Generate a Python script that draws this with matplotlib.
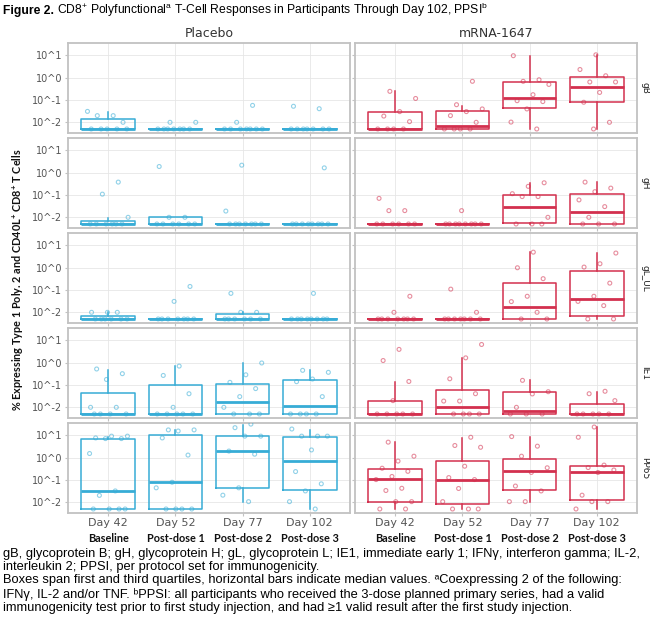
import numpy as np
import matplotlib
matplotlib.use('Agg')
import matplotlib.pyplot as plt
from matplotlib import transforms
from matplotlib.ticker import NullLocator

plt.rcParams['mathtext.default'] = 'regular'

# ---------------- data (values are log10 of % expressing) ----------------
DAYS = ['Day 42', 'Day 52', 'Day 77', 'Day 102']
PHASES = ['Baseline', 'Post-dose 1', 'Post-dose 2', 'Post-dose 3']
ANTIGENS = ['gB', 'gH', 'gL_UL', 'IE1', 'PP65']
ARMS = ['Placebo', 'mRNA-1647']
Y_TICKS = [0.01, 0.1, 1, 10]
Y_TICK_LABELS = ['10^-2', '10^-1', '10^0', '10^1']
Y_LIMITS_LOG = [-2.48, 1.56]

# points per day (log10 %)
PLACEBO_GB_PTS = [[-1.51, -1.7, -1.7, -2.0, -2.3, -2.3, -2.3, -2.3, -2.3],
                  [-2.0, -2.0, -2.3, -2.3, -2.3, -2.3, -2.3, -2.3, -2.3],
                  [-1.24, -2.0, -2.3, -2.3, -2.3, -2.3, -2.3, -2.3, -2.3],
                  [-1.28, -1.39, -2.3, -2.3, -2.3, -2.3, -2.3, -2.3, -2.3]]
MRNA_GB_PTS = [[-0.61, -0.93, -1.52, -1.72, -1.97, -2.3, -2.3, -2.3, -2.3],
               [-0.16, -1.21, -1.4, -1.52, -1.7, -2.0, -2.3, -2.3, -2.3, -2.3],
               [0.99, -0.09, -0.16, -0.3, -0.76, -1.03, -1.07, -1.4, -1.99, -2.3],
               [1.03, 0.37, 0.09, -0.19, -0.19, -0.66, -1.1, -2.0, -2.3]]
PLACEBO_GH_PTS = [[-0.42, -0.96, -2.0, -2.3, -2.3, -2.3, -2.3, -2.3, -2.3],
                  [0.28, -2.0, -2.0, -2.3, -2.3, -2.3, -2.3, -2.3, -2.3],
                  [0.34, -1.72, -2.3, -2.3, -2.3, -2.3, -2.3, -2.3, -2.3],
                  [0.22, -2.3, -2.3, -2.3, -2.3, -2.3, -2.3, -2.3, -2.3]]
MRNA_GH_PTS = [[-1.15, -1.7, -1.7, -2.3, -2.3, -2.3, -2.3, -2.3, -2.3],
               [-1.7, -2.3, -2.3, -2.3, -2.3, -2.3, -2.3, -2.3, -2.3],
               [-0.45, -0.61, -0.94, -1.07, -1.07, -2.0, -2.3, -2.3, -2.3],
               [-0.42, -0.69, -0.85, -1.22, -1.52, -2.0, -2.3, -2.3, -2.3]]
PLACEBO_GL_PTS = [[-2.0, -2.0, -2.0, -2.3, -2.3, -2.3, -2.3, -2.3, -2.3],
                  [-0.84, -1.51, -2.3, -2.3, -2.3, -2.3, -2.3, -2.3, -2.3],
                  [-1.15, -2.0, -2.0, -2.3, -2.3, -2.3, -2.3, -2.3, -2.3],
                  [-1.15, -2.3, -2.3, -2.3, -2.3, -2.3, -2.3, -2.3, -2.3]]
MRNA_GL_PTS = [[-1.28, -2.0, -2.3, -2.3, -2.3, -2.3, -2.3, -2.3, -2.3],
               [-0.96, -2.0, -2.3, -2.3, -2.3, -2.3, -2.3, -2.3, -2.3],
               [0.70, 0.0, -0.49, -1.28, -1.52, -2.0, -2.3, -2.3],
               [0.66, 0.18, 0.03, -0.69, -1.28, -1.51, -1.7, -2.3, -2.3]]
PLACEBO_IE1_PTS = [[-0.28, -0.49, -0.75, -2.0, -2.0, -2.3, -2.3, -2.3, -2.3],
                   [-0.15, -0.57, -1.39, -2.0, -2.3, -2.3, -2.3, -2.3, -2.3],
                   [-0.01, -0.54, -0.88, -1.16, -1.52, -2.0, -2.3, -2.3, -2.3],
                   [-0.34, -0.43, -0.73, -0.85, -1.52, -2.3, -2.3, -2.3, -2.3]]
MRNA_IE1_PTS = [[0.6, 0.1, -0.84, -1.7, -2.3, -2.3, -2.3, -2.3, -2.3],
                [0.82, 0.22, -0.72, -1.39, -1.72, -1.72, -2.3, -2.3, -2.3, -2.3],
                [-0.79, -1.3, -1.4, -2.0, -2.3, -2.3, -2.3],
                [-1.28, -1.39, -1.7, -2.3, -2.3, -2.3, -2.3, -2.3]]
PLACEBO_PP65_PTS = [[0.97, 0.97, 0.89, 0.86, 0.86, 0.19, -1.49, -1.69, -2.3, -2.3, -2.3, -2.3],
                    [1.25, 1.25, 1.2, 0.89, 0.12, -1.1, -1.35, -2.3, -2.3, -2.3, -2.3],
                    [1.51, 1.35, 0.97, 0.97, 0.3, 0.16, -1.35, -1.68, -1.97],
                    [1.29, 0.97, 0.97, 0.97, 0.35, -0.62, -1.17, -1.49, -1.97, -2.3]]
MRNA_PP65_PTS = [[0.7, 0.07, -0.15, -0.47, -0.61, -0.84, -0.98, -1.37, -1.47, -1.97, -1.97, -2.3, -2.3],
                 [0.92, 0.55, 0.47, -0.38, -0.89, -0.98, -1.38, -1.97, -2.3, -2.3, -2.3],
                 [0.95, 0.52, 0.07, -0.45, -0.66, -1.27, -1.49, -1.97, -1.97],
                 [1.38, 0.92, -0.33, -0.44, -0.55, -0.66, -1.68, -1.97, -1.97, -2.3]]

# box statistics per day: (whisker low, Q1, median, Q3, whisker high), log10 %
FLAT = (-2.3, -2.3, -2.3, -2.3, -2.3)
PLACEBO_GB_BOX = [(-2.3, -2.3, -2.3, -1.85, -1.54), FLAT, FLAT, FLAT]
MRNA_GB_BOX = [(-2.3, -2.3, -2.3, -1.52, -0.61), (-2.3, -2.3, -2.16, -1.48, -1.25),
               (-2.3, -1.34, -0.93, -0.19, 0.97), (-2.3, -1.1, -0.43, 0.03, 1.03)]
PLACEBO_GH_BOX = [(-2.3, -2.3, -2.3, -2.15, -2.03), (-2.3, -2.3, -2.3, -2.0, -2.0), FLAT, FLAT]
MRNA_GH_BOX = [FLAT, FLAT, (-2.3, -2.25, -1.55, -0.99, -0.46), (-2.3, -2.3, -1.76, -0.94, -0.42)]
PLACEBO_GL_BOX = [(-2.3, -2.3, -2.3, -2.15, -2.0), FLAT, (-2.3, -2.3, -2.3, -2.09, -2.0), FLAT]
MRNA_GL_BOX = [FLAT, FLAT, (-2.3, -2.3, -1.76, -0.69, 0.69), (-2.3, -2.15, -1.42, -0.15, 0.66)]
PLACEBO_IE1_BOX = [(-2.3, -2.3, -2.3, -1.37, -0.31), (-2.3, -2.3, -2.3, -1.0, -0.16),
                   (-2.3, -2.3, -1.76, -0.96, -0.01), (-2.3, -2.3, -1.93, -0.76, -0.34)]
MRNA_IE1_BOX = [(-2.3, -2.3, -2.3, -1.72, -0.85), (-2.3, -2.3, -2.0, -1.24, 0.22),
                (-2.3, -2.3, -2.15, -1.33, -0.79), (-2.3, -2.3, -2.3, -1.85, -1.31)]
PLACEBO_PP65_BOX = [(-2.3, -2.3, -1.49, 0.86, 0.95), (-2.3, -2.3, -1.1, 1.04, 1.23),
                    (-1.97, -1.37, 0.3, 0.97, 1.48), (-2.3, -1.43, -0.15, 0.95, 1.26)]
MRNA_PP65_BOX = [(-2.3, -1.97, -0.96, -0.5, 0.7), (-2.3, -2.08, -0.98, -0.16, 0.89),
                 (-1.97, -1.43, -0.59, -0.07, 0.92), (-2.3, -1.91, -0.63, -0.38, 1.38)]

POINTS = {
    ('Placebo', 'gB'): PLACEBO_GB_PTS, ('mRNA-1647', 'gB'): MRNA_GB_PTS,
    ('Placebo', 'gH'): PLACEBO_GH_PTS, ('mRNA-1647', 'gH'): MRNA_GH_PTS,
    ('Placebo', 'gL_UL'): PLACEBO_GL_PTS, ('mRNA-1647', 'gL_UL'): MRNA_GL_PTS,
    ('Placebo', 'IE1'): PLACEBO_IE1_PTS, ('mRNA-1647', 'IE1'): MRNA_IE1_PTS,
    ('Placebo', 'PP65'): PLACEBO_PP65_PTS, ('mRNA-1647', 'PP65'): MRNA_PP65_PTS,
}
BOXES = {
    ('Placebo', 'gB'): PLACEBO_GB_BOX, ('mRNA-1647', 'gB'): MRNA_GB_BOX,
    ('Placebo', 'gH'): PLACEBO_GH_BOX, ('mRNA-1647', 'gH'): MRNA_GH_BOX,
    ('Placebo', 'gL_UL'): PLACEBO_GL_BOX, ('mRNA-1647', 'gL_UL'): MRNA_GL_BOX,
    ('Placebo', 'IE1'): PLACEBO_IE1_BOX, ('mRNA-1647', 'IE1'): MRNA_IE1_BOX,
    ('Placebo', 'PP65'): PLACEBO_PP65_BOX, ('mRNA-1647', 'PP65'): MRNA_PP65_BOX,
}

# ---------------- style / layout ----------------
ARM_COLORS = ['#37acd6', '#d3304e']
BORDER = '#c2c2c2'
GRID = '#e6e6e6'
W, H = 650, 625
COL_X = [68, 355]
PANEL_W = 282
ROW_TOP0 = 43
ROW_PITCH = 95
PANEL_H = 90

fig = plt.figure(figsize=(W / 100, H / 100), dpi=100)


def px_axes(x0, y0, w, h):
    return fig.add_axes([x0 / W, 1 - (y0 + h) / H, w / W, h / H])


def jitter(n, k):
    return np.array([((j * 0.618034 + k * 0.37) % 1.0 - 0.5) * 0.62 for j in range(n)])


for r, ant in enumerate(ANTIGENS):
    for c, arm in enumerate(ARMS):
        ax = px_axes(COL_X[c], ROW_TOP0 + r * ROW_PITCH, PANEL_W, PANEL_H)
        color = ARM_COLORS[c]
        ax.set_yscale('log')
        ax.set_ylim(10 ** Y_LIMITS_LOG[0], 10 ** Y_LIMITS_LOG[1])
        ax.set_xlim(0.4, 4.6)
        ax.set_yticks(Y_TICKS)
        ax.yaxis.set_minor_locator(NullLocator())
        ax.set_xticks(range(1, len(DAYS) + 1))
        ax.grid(True, color=GRID, lw=0.6)
        ax.set_axisbelow(True)
        for s in ax.spines.values():
            s.set_color(BORDER)
            s.set_linewidth(1.3)

        stats = [dict(whislo=10 ** b[0], q1=10 ** b[1], med=10 ** b[2], q3=10 ** b[3],
                      whishi=10 ** b[4], fliers=[]) for b in BOXES[(arm, ant)]]
        ax.bxp(stats, positions=range(1, len(DAYS) + 1), widths=0.8, showcaps=False,
               showfliers=False, manage_ticks=False,
               boxprops=dict(color=color, lw=1.1),
               whiskerprops=dict(color=color, lw=1.1),
               medianprops=dict(color=color, lw=2.0))
        for i, vals in enumerate(POINTS[(arm, ant)]):
            xs = i + 1 + jitter(len(vals), i + 2 * r + c)
            ax.scatter(xs, 10 ** np.array(vals), s=8, facecolors='none', edgecolors=color,
                       alpha=0.55, linewidths=0.8, zorder=3)

        ax.tick_params(axis='both', length=2, color=BORDER, labelcolor='#555555', pad=2)
        if c == 0:
            ax.set_yticklabels(Y_TICK_LABELS, fontsize=7)
        else:
            ax.set_yticklabels([])
        if r == len(ANTIGENS) - 1:
            ax.set_xticklabels(DAYS, fontsize=8)
            ax.tick_params(axis='x', pad=1.5)
            trans = transforms.blended_transform_factory(ax.transData, fig.transFigure)
            for i, ph in enumerate(PHASES):
                ax.text(i + 1, 1 - 538 / H, ph, transform=trans, ha='center', va='center',
                        fontsize=7.8, fontweight='bold', family='Lato', color='#111111')
        else:
            ax.set_xticklabels([])
        if r == 0:
            ax.set_title(arm, fontsize=9, color='#333333', pad=4)
        if c == 1:
            ax.text(1.012, 0.5, ant, transform=ax.transAxes, rotation=270, ha='left',
                    va='center', fontsize=6.5, color='#222222')

fig.text(18 / W, 1 - 280 / H, '% Expressing Type 1 Poly. 2 and CD40L$^{+}$ CD8$^{+}$ T Cells',
         rotation=90, ha='center', va='center', fontsize=7.8, fontweight='bold',
         family='Lato', color='#111111')

# title
TITLE_FONT = ['Liberation Sans', 'DejaVu Sans']
t1 = fig.text(3 / W, 1 - 14 / H, 'Figure 2.', fontsize=8.7, fontweight='bold',
              family=TITLE_FONT, ha='left', va='baseline')
fig.canvas.draw()
bb = t1.get_window_extent()
fig.text(bb.x1 / W + 3 / W, 1 - 14 / H,
         'CD8$^{+}$ Polyfunctional$^{a}$ T-Cell Responses in Participants Through Day 102, PPSI$^{b}$',
         fontsize=8.7, family=TITLE_FONT, ha='left', va='baseline')

FOOT = [
    'gB, glycoprotein B; gH, glycoprotein H; gL, glycoprotein L; IE1, immediate early 1; IFNγ, interferon gamma; IL-2,',
    'interleukin 2; PPSI, per protocol set for immunogenicity.',
    'Boxes span first and third quartiles, horizontal bars indicate median values. \u1d43Coexpressing 2 of the following:',
    'IFNγ, IL-2 and/or TNF. \u1d47PPSI: all participants who received the 3-dose planned primary series, had a valid',
    'immunogenicity test prior to first study injection, and had ≥1 valid result after the first study injection.',
]
fig.text(3 / W, 1 - 548 / H, '\n'.join(FOOT), fontsize=9.3, family=TITLE_FONT,
         ha='left', va='top', linespacing=1.13)

fig.savefig('out.png', dpi=100)
